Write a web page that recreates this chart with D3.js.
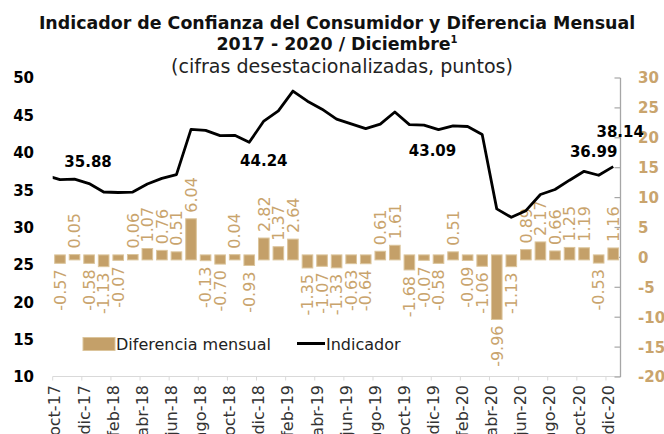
<!DOCTYPE html>
<html>
<head>
<meta charset="utf-8">
<script src="https://cdn.jsdelivr.net/npm/d3@7"></script>
<style>
  html, body { margin: 0; padding: 0; background: #ffffff; }
  svg { display: block; }
</style>
</head>
<body>
<svg id="chart" width="664" height="434"></svg>
<script>
// ---------------- DATA ----------------
const categories = [
  "oct-17","nov-17","dic-17",
  "ene-18","feb-18","mar-18","abr-18","may-18","jun-18","jul-18","ago-18","sep-18","oct-18","nov-18","dic-18",
  "ene-19","feb-19","mar-19","abr-19","may-19","jun-19","jul-19","ago-19","sep-19","oct-19","nov-19","dic-19",
  "ene-20","feb-20","mar-20","abr-20","may-20","jun-20","jul-20","ago-20","sep-20","oct-20","nov-20","dic-20"
];
const xTickLabels = [
  "oct-17","dic-17","feb-18","abr-18","jun-18","ago-18","oct-18","dic-18","feb-19","abr-19",
  "jun-19","ago-19","oct-19","dic-19","feb-20","abr-20","jun-20","ago-20","oct-20","dic-20"
];
const diferencia = [
  -0.57, 0.05, -0.58,
  -1.13, -0.07, 0.06, 1.07, 0.76, 0.51, 6.04, -0.13, -0.70, 0.04, -0.93, 2.82,
  1.37, 2.64, -1.35, -1.07, -1.33, -0.63, -0.64, 0.61, 1.61, -1.68, -0.07, -0.58,
  0.51, -0.09, -1.06, -9.96, -1.13, 0.89, 2.17, 0.66, 1.25, 1.19, -0.53, 1.16
];
const indicador = [
  36.41, 36.46, 35.88,
  34.75, 34.68, 34.74, 35.81, 36.57, 37.08, 43.12, 42.99, 42.29, 42.33, 41.40, 44.24,
  45.61, 48.25, 46.90, 45.83, 44.50, 43.87, 43.23, 43.84, 45.45, 43.77, 43.70, 43.09,
  43.60, 43.51, 42.45, 32.49, 31.36, 32.25, 34.42, 35.08, 36.33, 37.52, 36.99, 38.14
];
const indicadorPrevio = 36.98;          // sep-17, just outside the plotted window
const leftTicks = [10, 15, 20, 25, 30, 35, 40, 45, 50];
const rightTicks = [-20, -15, -10, -5, 0, 5, 10, 15, 20, 25, 30];
const lineLabelMonths = ["dic-17", "dic-18", "dic-19", "nov-20", "dic-20"];
// label placement offsets (style, px) relative to the point
const lineLabelOffsets = [[-1, -17], [0, 45], [-6, 26], [-5, -18], [7, -30]];

// ---------------- STYLE ----------------
const TAN = "#C7A36B";
const TAN_TEXT = "#C9A46D";
const BAR_FILL = "#C4A069";
const BAR_EDGE = "#DCC59C";
const SANS = "'DejaVu Sans', Verdana, sans-serif";

const svg = d3.select("#chart");
const plot = { left: 52.7, right: 620.5, top: 78, bottom: 377 };

const x = d3.scaleBand().domain(categories)
  .range([plot.left, plot.right]).paddingInner(0.27).paddingOuter(0.135);
const xc = c => x(c) + x.bandwidth() / 2;
const yL = d3.scaleLinear().domain([10, 50]).range([plot.bottom, plot.top]);
const yR = d3.scaleLinear().domain([-20, 30]).range([plot.bottom, plot.top]);

// ---------------- TITLE ----------------
function fit(sel, target) {
  const w = sel.node().getComputedTextLength();
  const fs = parseFloat(sel.attr("font-size"));
  sel.attr("font-size", fs * target / w);
}
const t1 = svg.append("text").attr("x", 337).attr("y", 29).attr("text-anchor", "middle")
  .attr("font-family", SANS).attr("font-weight", "bold").attr("font-size", 17).attr("fill", "#111")
  .text("Indicador de Confianza del Consumidor y Diferencia Mensual");
fit(t1, 597);
const t2 = svg.append("text").attr("x", 337).attr("y", 50).attr("text-anchor", "middle")
  .attr("font-family", SANS).attr("font-weight", "bold").attr("font-size", parseFloat(t1.attr("font-size"))).attr("fill", "#111");
t2.append("tspan").text("2017 - 2020 / Diciembre");
t2.append("tspan").attr("font-size", 10).attr("dy", -7).text("1");
const t3 = svg.append("text").attr("x", 342).attr("y", 73).attr("text-anchor", "middle")
  .attr("font-family", SANS).attr("font-size", 16).attr("fill", "#222")
  .text("(cifras desestacionalizadas, puntos)");
fit(t3, 342);

// ---------------- AXES ----------------
// bottom axis line + ticks every two months
svg.append("line").attr("x1", plot.left).attr("x2", plot.right)
  .attr("y1", plot.bottom - 0.5).attr("y2", plot.bottom - 0.5)
  .attr("stroke", "#D9D9D9").attr("stroke-width", 1);
categories.forEach((c, i) => {
  if (i % 2 === 0) {
    svg.append("line").attr("x1", x(c) - x.step() * 0.135).attr("x2", x(c) - x.step() * 0.135)
      .attr("y1", plot.bottom - 0.5).attr("y2", plot.bottom + 3.5)
      .attr("stroke", "#D9D9D9").attr("stroke-width", 1);
  }
});
svg.append("g").selectAll("text").data(xTickLabels).join("text")
  .attr("transform", d => `translate(${xc(d) + 0.5},${plot.bottom + 8}) rotate(-90)`)
  .attr("text-anchor", "end")
  .attr("font-family", SANS).attr("font-size", 16).attr("fill", "#333")
  .text(d => d);

// left axis labels
svg.append("g").selectAll("text").data(leftTicks).join("text")
  .attr("x", 34).attr("y", d => yL(d)).attr("dy", "0.36em")
  .attr("text-anchor", "end").attr("font-family", SANS).attr("font-weight", "bold")
  .attr("font-size", 15).attr("fill", "#000").text(d => d);

// right axis
svg.append("line").attr("x1", plot.right).attr("x2", plot.right)
  .attr("y1", plot.top).attr("y2", plot.bottom)
  .attr("stroke", "#A6A6A6").attr("stroke-width", 1.3);
svg.append("g").selectAll("line").data(rightTicks).join("line")
  .attr("x1", plot.right - 6).attr("x2", plot.right)
  .attr("y1", d => yR(d)).attr("y2", d => yR(d))
  .attr("stroke", "#A6A6A6").attr("stroke-width", 1.2);
svg.append("g").selectAll("text").data(rightTicks).join("text")
  .attr("x", 638).attr("y", d => yR(d)).attr("dy", "0.36em")
  .attr("text-anchor", "start").attr("font-family", SANS).attr("font-weight", "bold")
  .attr("font-size", 15).attr("fill", TAN_TEXT).text(d => d);

// ---------------- BARS ----------------
const bars = categories.map((c, i) => ({ c, v: diferencia[i] }));
const bevel = 2.5;
svg.append("g").selectAll("rect").data(bars).join("rect")
  .attr("x", d => x(d.c))
  .attr("width", x.bandwidth())
  .attr("y", d => yR(Math.max(0, d.v)) - bevel)
  .attr("height", d => Math.abs(yR(d.v) - yR(0)) + 2 * bevel)
  .attr("fill", BAR_FILL).attr("stroke", BAR_EDGE).attr("stroke-width", 1);

svg.append("g").selectAll("text").data(bars).join("text")
  .attr("transform", d => d.v >= 0
    ? `translate(${xc(d.c)},${yR(d.v) - bevel - 6}) rotate(-90)`
    : `translate(${xc(d.c)},${yR(d.v) + bevel + 6}) rotate(-90)`)
  .attr("text-anchor", d => d.v >= 0 ? "start" : "end")
  .attr("dy", "0.36em")
  .attr("font-family", SANS).attr("font-size", 16).attr("fill", TAN_TEXT)
  .text(d => d.v.toFixed(2));

// ---------------- LINE ----------------
svg.append("clipPath").attr("id", "plotclip").append("rect")
  .attr("x", plot.left).attr("y", 0).attr("width", plot.right - plot.left).attr("height", 434);
const linePts = [{ px: xc(categories[0]) - x.step(), v: indicadorPrevio }]
  .concat(categories.map((c, i) => ({ px: xc(c), v: indicador[i] })));
svg.append("path").datum(linePts)
  .attr("clip-path", "url(#plotclip)")
  .attr("d", d3.line().x(d => d.px).y(d => yL(d.v)))
  .attr("fill", "none").attr("stroke", "#000").attr("stroke-width", 2.8)
  .attr("stroke-linejoin", "round");

svg.append("g").selectAll("text").data(lineLabelMonths).join("text")
  .attr("x", (d, i) => xc(d) + lineLabelOffsets[i][0])
  .attr("y", (d, i) => yL(indicador[categories.indexOf(d)]) + lineLabelOffsets[i][1])
  .attr("text-anchor", "middle").attr("font-family", SANS).attr("font-weight", "bold")
  .attr("font-size", 15).attr("fill", "#000")
  .text(d => indicador[categories.indexOf(d)].toFixed(2));

// ---------------- LEGEND ----------------
const lg = svg.append("g");
lg.append("rect").attr("x", 83).attr("y", 337.5).attr("width", 32).attr("height", 13)
  .attr("fill", BAR_FILL).attr("stroke", BAR_EDGE).attr("stroke-width", 1);
lg.append("text").attr("x", 116).attr("y", 349.5).attr("font-family", SANS).attr("font-size", 16)
  .attr("fill", "#222").text("Diferencia mensual");
lg.append("line").attr("x1", 297).attr("x2", 325).attr("y1", 343.5).attr("y2", 343.5)
  .attr("stroke", "#000").attr("stroke-width", 3);
lg.append("text").attr("x", 326).attr("y", 349.5).attr("font-family", SANS).attr("font-size", 16)
  .attr("fill", "#222").text("Indicador");
</script>
</body>
</html>
